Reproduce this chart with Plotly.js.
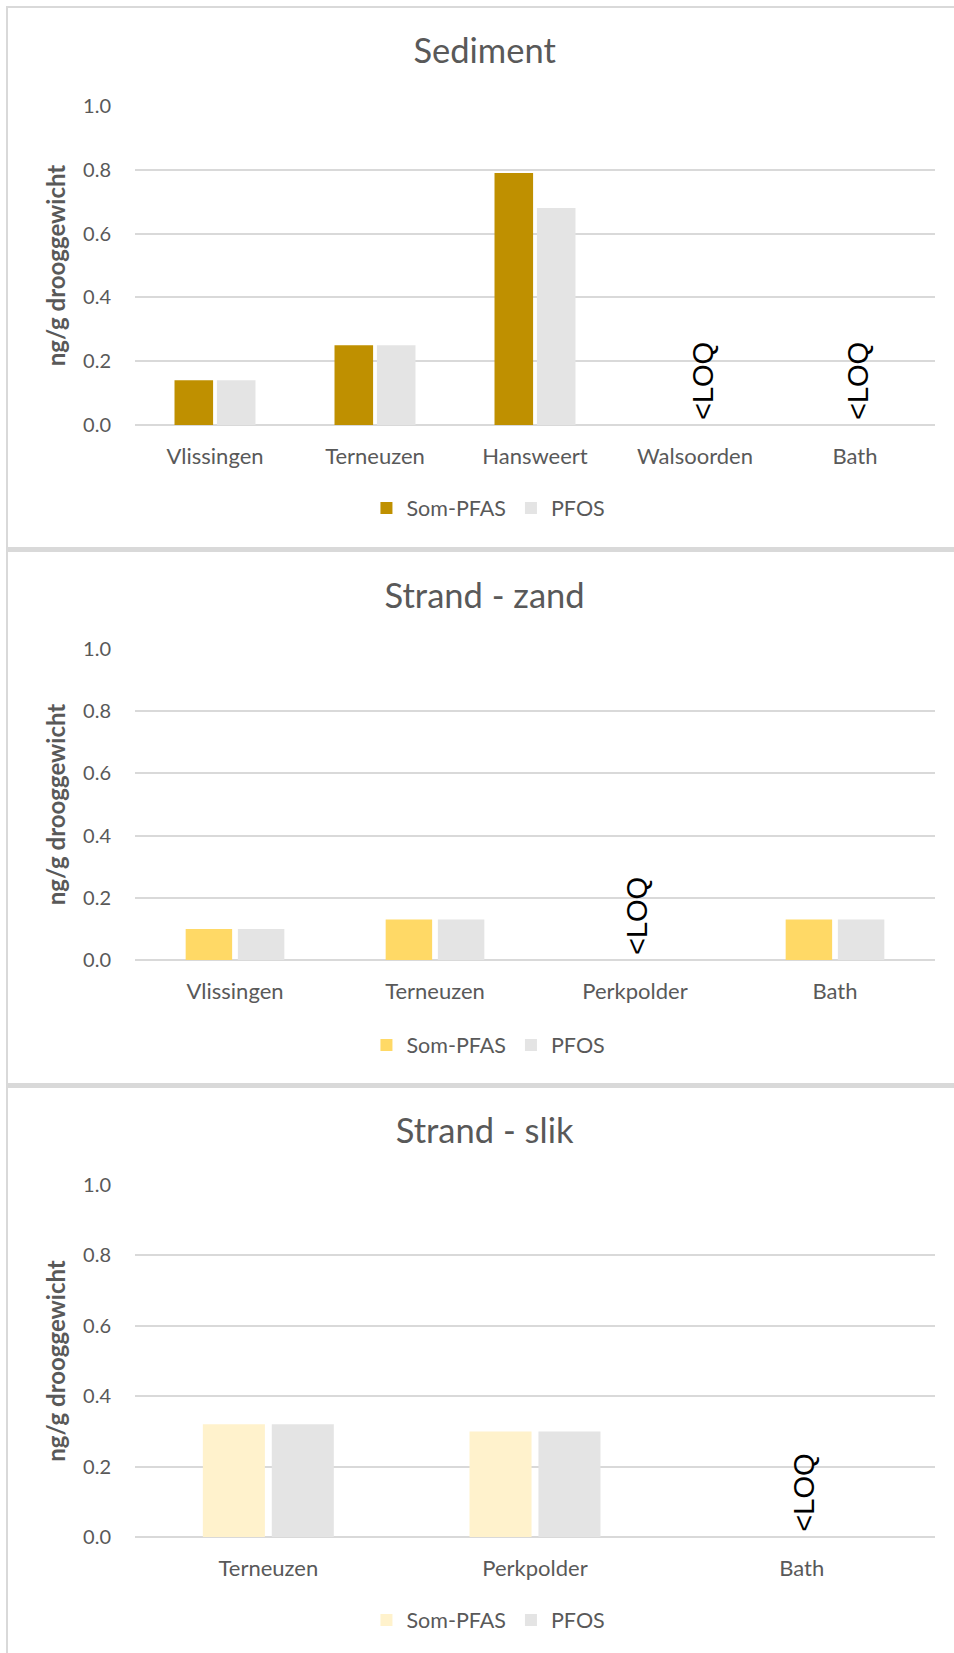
<!DOCTYPE html>
<html>
<head>
<meta charset="utf-8">
<script src="https://cdn.plot.ly/plotly-3.0.1.min.js"></script>
<style>
  html, body { margin: 0; padding: 0; background: #ffffff; }
  #wrap { position: relative; width: 954px; height: 1653px; overflow: hidden; background: #fff; }
  .panel { position: absolute; left: 0; width: 954px; }
  .ln { position: absolute; background: #D9D9D9; pointer-events: none; z-index: 10; }
</style>
</head>
<body>
<div id="wrap">
  <div id="p1" class="panel" style="top:0px;height:550px;"></div>
  <div id="p2" class="panel" style="top:550px;height:535px;"></div>
  <div id="p3" class="panel" style="top:1085px;height:568px;"></div>
  <div class="ln" style="left:6px;top:6px;width:2px;height:1647px;"></div>
  <div class="ln" style="left:6px;top:6px;width:948px;height:2px;"></div>
  <div class="ln" style="left:6px;top:547px;width:948px;height:5px;"></div>
  <div class="ln" style="left:6px;top:1083px;width:948px;height:5px;"></div>
</div>
<script>
// ---------- DATA ----------
const seriesNames = ['Som-PFAS', 'PFOS'];
const yTitle = 'ng/g drooggewicht';
const loqLabel = '&lt;LOQ';

const sedimentTitle = 'Sediment';
const sedimentCategories = ['Vlissingen', 'Terneuzen', 'Hansweert', 'Walsoorden', 'Bath'];
const sedimentSomPFAS = [0.14, 0.25, 0.79, null, null];
const sedimentPFOS = [0.14, 0.25, 0.68, null, null];
const sedimentLOQ = ['Walsoorden', 'Bath'];

const zandTitle = 'Strand - zand';
const zandCategories = ['Vlissingen', 'Terneuzen', 'Perkpolder', 'Bath'];
const zandSomPFAS = [0.10, 0.13, null, 0.13];
const zandPFOS = [0.10, 0.13, null, 0.13];
const zandLOQ = ['Perkpolder'];

const slikTitle = 'Strand - slik';
const slikCategories = ['Terneuzen', 'Perkpolder', 'Bath'];
const slikSomPFAS = [0.32, 0.30, null];
const slikPFOS = [0.32, 0.30, null];
const slikLOQ = ['Bath'];

const yTickVals = [0, 0.2, 0.4, 0.6, 0.8, 1.0];

// ---------- STYLE ----------
const FONT = 'Lato, "Open Sans", sans-serif';
const TXT = '#595959';
const GRID = '#D9D9D9';
const PFOS_COLOR = '#E4E4E4';

function build(divId, cfg) {
  const traces = [
    { type: 'bar', name: seriesNames[0], x: cfg.categories, y: cfg.som,
      marker: { color: cfg.somColor, line: { width: 0 } } },
    { type: 'bar', name: seriesNames[1], x: cfg.categories, y: cfg.pfos,
      marker: { color: PFOS_COLOR, line: { width: 0 } } }
  ];
  const annotations = cfg.loq.map((c, i) => ({
    x: c, y: 0, xref: 'x', yref: 'y',
    text: loqLabel, textangle: -90, showarrow: false,
    xanchor: 'center', yanchor: 'bottom',
    xshift: (cfg.loqShift ? cfg.loqShift[i] : 0), yshift: 3,
    font: { family: '"Liberation Sans", Arial, sans-serif', size: 29, color: '#000000' }
  }));
  const layout = {
    width: 954, height: cfg.height,
    margin: { l: 135, r: 19, t: cfg.top, b: cfg.bottom, pad: 0 },
    paper_bgcolor: '#ffffff', plot_bgcolor: '#ffffff',
    font: { family: FONT, color: TXT },
    title: { text: cfg.title, x: 0.508, xref: 'container', xanchor: 'center',
             y: 1 - cfg.titleY / cfg.height, yref: 'container', yanchor: 'middle',
             font: { family: FONT, size: 34.5, color: TXT } },
    barmode: 'group', bargap: cfg.bargap, bargroupgap: cfg.bargroupgap,
    showlegend: true,
    legend: { orientation: 'h', xref: 'container', x: 0.512, xanchor: 'center',
              yref: 'container', y: 1 - cfg.legendY / cfg.height, yanchor: 'middle',
              font: { family: FONT, size: 21.5, color: TXT }, itemwidth: 30,
              bgcolor: 'rgba(0,0,0,0)' },
    xaxis: { type: 'category', showgrid: false, zeroline: false, showline: false,
             ticks: 'outside', ticklen: 12, tickcolor: 'rgba(0,0,0,0)',
             tickfont: { family: FONT, size: 22, color: TXT }, fixedrange: true },
    yaxis: { range: [0, 1], tickvals: yTickVals, tickformat: '.1f',
             showgrid: true, gridcolor: GRID, gridwidth: 2,
             zeroline: true, zerolinecolor: GRID, zerolinewidth: 2, showline: false,
             ticks: 'outside', ticklen: 19, tickcolor: 'rgba(0,0,0,0)',
             tickfont: { family: FONT, size: 20, color: TXT },
             title: { text: yTitle, standoff: 10,
                      font: { family: FONT, size: 24, color: TXT, weight: 'bold' } },
             automargin: false, fixedrange: true },
    annotations: annotations
  };
  Plotly.newPlot(divId, traces, layout, { staticPlot: true, displayModeBar: false });
}

build('p1', { title: sedimentTitle, categories: sedimentCategories, som: sedimentSomPFAS,
  pfos: sedimentPFOS, loq: sedimentLOQ, somColor: '#BF9000', loqShift: [8, 3],
  height: 550, top: 106, bottom: 125, titleY: 51, legendY: 508,
  bargap: 0.47, bargroupgap: 0.09 });

build('p2', { title: zandTitle, categories: zandCategories, som: zandSomPFAS,
  pfos: zandPFOS, loq: zandLOQ, somColor: '#FFD966', loqShift: [2],
  height: 535, top: 99, bottom: 125, titleY: 46, legendY: 495,
  bargap: 0.478, bargroupgap: 0.11 });

build('p3', { title: slikTitle, categories: slikCategories, som: slikSomPFAS,
  pfos: slikPFOS, loq: slikLOQ, somColor: '#FFF2CC', loqShift: [2],
  height: 568, top: 100, bottom: 116, titleY: 46, legendY: 535,
  bargap: 0.483, bargroupgap: 0.1 });
</script>
</body>
</html>
